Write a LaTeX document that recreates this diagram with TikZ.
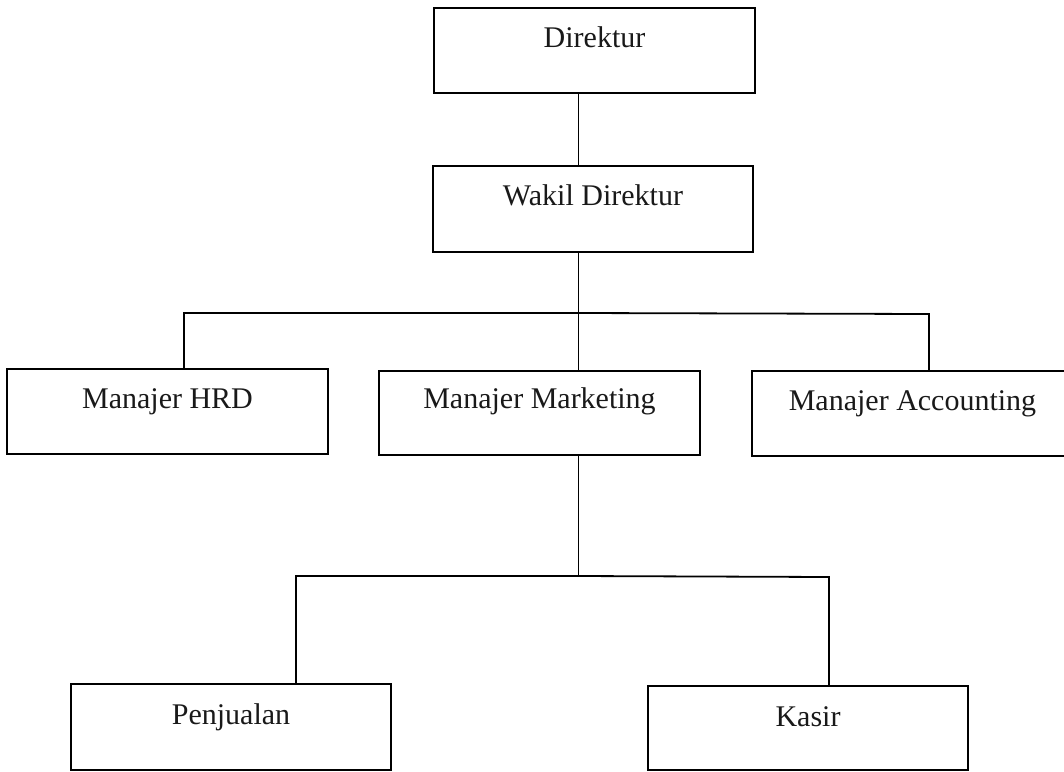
\documentclass[tikz,border=0pt]{standalone}
\usepackage{fontspec}
\setmainfont{Liberation Serif}
\begin{document}
\begin{tikzpicture}[x=1pt,y=-1pt,
  box/.style={draw=black, line width=1.8pt, rectangle, inner sep=0pt, outer sep=0pt, minimum height=86pt},
  lbl/.style={anchor=base, inner sep=0pt, font=\fontsize{30}{36}\selectfont, text=black!90},
  conn/.style={draw=black, line width=1.8pt}]
\clip (0,0) rectangle (1064,771);
\fill[white] (0,0) rectangle (1064,771);
% boxes
\node[box, minimum width=321pt, minimum height=85pt] (dir) at (594.5,50.5) {};
\node[box, minimum width=320pt] (wak) at (593,209) {};
\node[box, minimum width=321pt, minimum height=85pt] (hrd) at (167.5,411.5) {};
\node[box, minimum width=321pt, minimum height=84pt] (mkt) at (539.5,413) {};
\node[box, minimum width=321pt, minimum height=85pt] (acc) at (912.5,413.5) {};
\node[box, minimum width=320pt] (pen) at (231,727) {};
\node[box, minimum width=320pt, minimum height=84pt] (kas) at (808,728) {};
% labels
\node[lbl] (dir-t) at ([yshift=-39.5pt]dir.north) {Direktur};
\node[lbl] (wak-t) at ([yshift=-39.5pt]wak.north) {Wakil Direktur};
\node[lbl] (hrd-t) at ([yshift=-39.5pt]hrd.north) {Manajer HRD};
\node[lbl] (mkt-t) at ([yshift=-37.5pt]mkt.north) {Manajer Marketing};
\node[lbl] (acc-t) at ([yshift=-39.5pt]acc.north) {Manajer Accounting};
\node[lbl] (pen-t) at ([yshift=-40pt]pen.north) {Penjualan};
\node[lbl] (kas-t) at ([yshift=-40pt]kas.north) {Kasir};
% connector coordinates
\coordinate (spine) at (578.5,313);
\coordinate (hrdc) at (184,313);
\coordinate (accc) at (929,314);
\coordinate (bus2) at (578.5,576);
\coordinate (penc) at (296,576);
\coordinate (kasc) at (829,577);
% connectors
\draw[conn] (dir.south -| spine) -- (wak.north -| spine);
\draw[conn] (wak.south -| spine) -- (mkt.north -| spine);
\draw[conn] (hrd.north -| hrdc) -- (hrdc) -- (spine) -- (accc) -- (acc.north -| accc);
\draw[conn] (mkt.south -| bus2) -- (bus2);
\draw[conn] (pen.north -| penc) -- (penc) -- (bus2) -- (kasc) -- (kas.north -| kasc);
\end{tikzpicture}
\end{document}
